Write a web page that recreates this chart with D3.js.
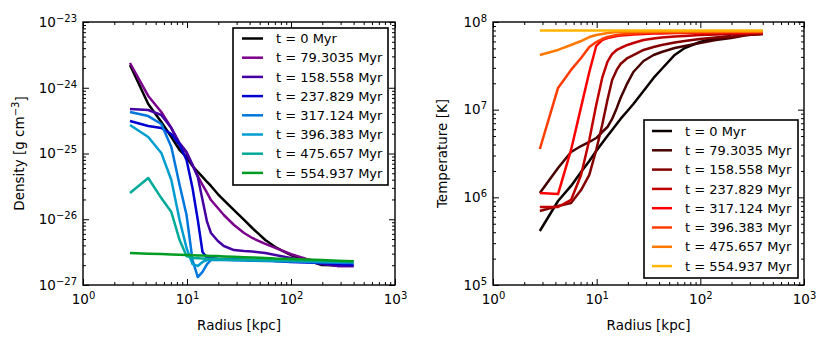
<!DOCTYPE html>
<html>
<head>
<meta charset="utf-8">
<script src="https://cdn.jsdelivr.net/npm/d3@7"></script>
<style>
  html, body { margin: 0; padding: 0; background: #fff; }
  svg { display: block; font-family: "DejaVu Sans", sans-serif; }
</style>
</head>
<body>
<svg id="chart" width="830" height="347"></svg>
<script>
// ---------------- data ----------------
const radii = [2.83, 4.24, 5.66, 7.07, 8.49, 9.9, 11.3, 12.7, 14.1, 15.6, 17.0, 19.8, 22.6, 28.3, 35.4, 42.4, 56.6, 70.7, 99, 141, 198, 283, 400];
const times = ["0", "79.3035", "158.558", "237.829", "317.124", "396.383", "475.657", "554.937"];

const dens0   = [2.22e-24, 5.66e-25, 3.01e-25, 1.78e-25, 1.13e-25, 8.85e-26, 6.46e-26, 5.25e-26, 4.40e-26, 3.69e-26, 3.21e-26, 2.42e-26, 1.96e-26, 1.38e-26, 9.75e-27, 7.36e-27, 4.83e-27, 3.78e-27, 2.86e-27, 2.40e-27, 2.01e-27, 2.0e-27, null];
const dens79  = [2.38e-24, 7.5e-25, 4.28e-25, 2.44e-25, 1.35e-25, 1.02e-25, 6.68e-26, 4.55e-26, 3.32e-26, 2.51e-26, 1.96e-26, 1.48e-26, 1.16e-26, 8.18e-27, 6.18e-27, 5.19e-27, 4.21e-27, 3.66e-27, 2.96e-27, 2.48e-27, 2.16e-27, 1.95e-27, 1.95e-27];
const dens158 = [4.75e-25, 4.59e-25, 3.85e-25, 2.44e-25, 1.44e-25, 1.05e-25, 6.68e-26, 4.4e-26, 1.96e-26, 9.1e-27, 6.18e-27, 4.67e-27, 3.92e-27, 3.4e-27, 3.29e-27, 3.23e-27, 3.07e-27, 2.86e-27, 2.57e-27, 2.32e-27, 2.08e-27, 1.95e-27, 1.95e-27];
const dens237 = [3.12e-25, 2.62e-25, 2.44e-25, 1.98e-25, 1.35e-25, 7.96e-26, 2.98e-26, 9.75e-27, 3.18e-27, 2.58e-27, 2.55e-27, 2.5e-27, 2.48e-27, 2.46e-27, 2.42e-27, 2.4e-27, 2.38e-27, 2.32e-27, 2.24e-27, 2.2e-27, 2.16e-27, 2.08e-27, 2.01e-27];
const dens317 = [4.28e-25, 3.71e-25, 2.81e-25, 1.26e-25, 3.32e-26, 1.16e-26, 2.4e-27, 1.32e-27, 1.58e-27, 2.08e-27, 2.4e-27, 2.4e-27, 2.4e-27, 2.38e-27, 2.36e-27, 2.34e-27, 2.32e-27, 2.3e-27, 2.28e-27, 2.24e-27, 2.2e-27, 2.18e-27, 2.16e-27];
const dens396 = [2.71e-25, 1.78e-25, 1.02e-25, 3.95e-26, 9.75e-27, 3.66e-27, 2.08e-27, 1.95e-27, 2.24e-27, 2.4e-27, 2.42e-27, 2.42e-27, 2.42e-27, 2.4e-27, 2.4e-27, 2.38e-27, 2.36e-27, 2.34e-27, 2.32e-27, 2.3e-27, 2.28e-27, 2.26e-27, 2.24e-27];
const dens475 = [2.51e-26, 4.24e-26, 2.1e-26, 1.29e-26, 4.83e-27, 2.76e-27, 2.58e-27, 2.55e-27, 2.52e-27, 2.5e-27, 2.5e-27, 2.48e-27, 2.46e-27, 2.45e-27, 2.44e-27, 2.42e-27, 2.4e-27, 2.38e-27, 2.36e-27, 2.34e-27, 2.32e-27, 2.3e-27, 2.28e-27];
const dens554 = [3.07e-27, 3.0e-27, 2.96e-27, 2.91e-27, 2.88e-27, 2.86e-27, 2.84e-27, 2.82e-27, 2.80e-27, 2.78e-27, 2.77e-27, 2.75e-27, 2.72e-27, 2.69e-27, 2.65e-27, 2.62e-27, 2.58e-27, 2.53e-27, 2.49e-27, 2.44e-27, 2.39e-27, 2.34e-27, 2.30e-27];

const temp0   = [4.13e5, 9.08e5, 1.35e6, 1.94e6, 2.6e6, 3.38e6, 4.17e6, 5.01e6, 5.87e6, 6.87e6, 7.84e6, 9.67e6, 1.16e7, 1.63e7, 2.3e7, 2.91e7, 4.21e7, 5.05e7, 5.91e7, 6.57e7, 6.92e7, null, null];
const temp79  = [1.12e6, 2.16e6, 3.29e6, 3.85e6, 4.28e6, 4.75e6, 5.56e6, 6.34e6, 7.83e6, 1.04e7, 1.36e7, 2.01e7, 2.69e7, 3.59e7, 4.20e7, 4.55e7, 5.05e7, 5.33e7, 5.76e7, 6.23e7, 6.57e7, 7.11e7, 7.30e7];
const temp158 = [6.99e5, 7.96e5, 8.62e5, 1.21e6, 1.80e6, 3.47e6, 6.68e6, 1.29e7, 2.18e7, 2.84e7, 3.32e7, 3.88e7, 4.20e7, 4.80e7, 5.19e7, 5.47e7, 5.84e7, 6.07e7, 6.40e7, 6.66e7, 6.83e7, 7.11e7, 7.30e7];
const temp237 = [7.76e5, 7.76e5, 9.33e5, 1.80e6, 4.51e6, 1.13e7, 2.30e7, 3.50e7, 4.32e7, 4.80e7, 5.05e7, 5.47e7, 5.76e7, 6.23e7, 6.48e7, 6.66e7, 6.83e7, 6.93e7, 7.11e7, 7.20e7, 7.30e7, 7.39e7, 7.49e7];
const temp317 = [1.12e6, 1.09e6, 3.47e6, 1.07e7, 2.69e7, 5.33e7, 6.23e7, 6.57e7, 6.74e7, 6.93e7, 7.02e7, 7.11e7, 7.20e7, 7.30e7, 7.39e7, 7.39e7, 7.49e7, 7.49e7, 7.49e7, 7.59e7, 7.59e7, 7.59e7, 7.69e7];
const temp396 = [3.56e6, 1.77e7, 2.84e7, 3.88e7, 5.19e7, 5.91e7, 6.40e7, 6.74e7, 6.93e7, 7.11e7, 7.20e7, 7.30e7, 7.39e7, 7.49e7, 7.59e7, 7.59e7, 7.59e7, 7.59e7, 7.64e7, 7.64e7, 7.69e7, 7.69e7, 7.69e7];
const temp475 = [4.20e7, 4.80e7, 5.47e7, 6.07e7, 6.74e7, 7.11e7, 7.30e7, 7.49e7, 7.59e7, 7.69e7, 7.69e7, 7.69e7, 7.74e7, 7.74e7, 7.74e7, 7.79e7, 7.79e7, 7.79e7, 7.79e7, 7.79e7, 7.79e7, 7.79e7, 7.79e7];
const temp554 = [8.0e7, 8.0e7, 8.0e7, 8.0e7, 8.0e7, 8.0e7, 8.0e7, 8.0e7, 8.0e7, 8.0e7, 8.0e7, 8.0e7, 8.0e7, 8.0e7, 8.0e7, 8.0e7, 8.0e7, 8.0e7, 8.0e7, 8.0e7, 8.0e7, 8.0e7, 8.0e7];

const xTickExps = [0, 1, 2, 3];
const densTickExps = [-27, -26, -25, -24, -23];
const tempTickExps = [5, 6, 7, 8];

const densColors = ["#000000", "#7b008c", "#4400a2", "#0000d0", "#0077dd", "#009dd0", "#00aa99", "#009d22"];
const tempColors = ["#0b0000", "#470000", "#840000", "#c10000", "#fe0000", "#ff3c00", "#ff7900", "#ffb500"];

const densSeries = [dens0, dens79, dens158, dens237, dens317, dens396, dens475, dens554];
const tempSeries = [temp0, temp79, temp158, temp237, temp317, temp396, temp475, temp554];

// ---------------- drawing ----------------
const svg = d3.select("#chart");
const FONT = 13;
const TICKFONT = 13.5;
const minus = "\u2212";

function expLabel(textSel, e) {
  textSel.text(null);
  textSel.append("tspan").text("10");
  textSel.append("tspan").attr("dy", "-0.5em").attr("font-size", "10px")
    .text(e < 0 ? minus + Math.abs(e) : String(e));
}

function minorValues(lo, hi) {
  const out = [];
  for (let e = lo; e < hi; e++) for (let k = 2; k <= 9; k++) out.push(k * Math.pow(10, e));
  return out;
}

function panel(cfg) {
  const { x0, x1, y0, y1, yDomainExp, yTicks, series, colors, yLabel, legend, id } = cfg;
  const x = d3.scaleLog().domain([1, 1000]).range([x0, x1]);
  const y = d3.scaleLog().domain([Math.pow(10, yDomainExp[0]), Math.pow(10, yDomainExp[1])]).range([y1, y0]);
  const g = svg.append("g");

  svg.append("defs").append("clipPath").attr("id", "clip" + id)
    .append("rect").attr("x", x0).attr("y", y0).attr("width", x1 - x0).attr("height", y1 - y0);

  const xMajor = xTickExps.map(e => Math.pow(10, e));
  const yMajor = yTicks.map(e => Math.pow(10, e));
  const xMinor = minorValues(0, 3);
  const yMinor = minorValues(yDomainExp[0], yDomainExp[1]);

  const MAJ = 6, MIN = 3;
  const gb = g.append("g").attr("transform", `translate(0,${y1})`)
    .call(d3.axisBottom(x).tickValues(xMajor).tickSizeInner(-MAJ).tickSizeOuter(0).tickPadding(9));
  gb.selectAll(".tick text").each(function(d) { expLabel(d3.select(this), Math.round(Math.log10(d))); });
  g.append("g").attr("transform", `translate(0,${y1})`)
    .call(d3.axisBottom(x).tickValues(xMinor).tickSizeInner(-MIN).tickSizeOuter(0).tickFormat(""));
  g.append("g").attr("transform", `translate(0,${y0})`)
    .call(d3.axisTop(x).tickValues(xMajor).tickSizeInner(-MAJ).tickSizeOuter(0).tickFormat(""));
  g.append("g").attr("transform", `translate(0,${y0})`)
    .call(d3.axisTop(x).tickValues(xMinor).tickSizeInner(-MIN).tickSizeOuter(0).tickFormat(""));
  const gl = g.append("g").attr("transform", `translate(${x0},0)`)
    .call(d3.axisLeft(y).tickValues(yMajor).tickSizeInner(-MAJ).tickSizeOuter(0).tickPadding(6));
  gl.selectAll(".tick text").each(function(d) { expLabel(d3.select(this), Math.round(Math.log10(d))); });
  g.append("g").attr("transform", `translate(${x0},0)`)
    .call(d3.axisLeft(y).tickValues(yMinor).tickSizeInner(-MIN).tickSizeOuter(0).tickFormat(""));
  g.append("g").attr("transform", `translate(${x1},0)`)
    .call(d3.axisRight(y).tickValues(yMajor).tickSizeInner(-MAJ).tickSizeOuter(0).tickFormat(""));
  g.append("g").attr("transform", `translate(${x1},0)`)
    .call(d3.axisRight(y).tickValues(yMinor).tickSizeInner(-MIN).tickSizeOuter(0).tickFormat(""));

  g.selectAll(".domain").remove();
  g.selectAll(".tick line").attr("stroke", "#000").attr("stroke-width", 1);
  g.selectAll(".tick text").attr("font-size", TICKFONT + "px").attr("fill", "#000")
    .attr("font-family", "DejaVu Sans, sans-serif");

  const line = d3.line()
    .defined(d => d[1] != null)
    .x(d => x(d[0])).y(d => y(d[1]));
  const lg = svg.append("g").attr("clip-path", `url(#clip${id})`);
  series.forEach((s, i) => {
    lg.append("path")
      .datum(radii.map((r, j) => [r, s[j]]))
      .attr("d", line)
      .attr("fill", "none")
      .attr("stroke", colors[i])
      .attr("stroke-width", 2.5)
      .attr("stroke-linejoin", "round")
      .attr("stroke-linecap", "butt");
  });

  svg.append("rect").attr("x", x0).attr("y", y0).attr("width", x1 - x0).attr("height", y1 - y0)
    .attr("fill", "none").attr("stroke", "#000").attr("stroke-width", 1.4);

  svg.append("text").attr("x", (x0 + x1) / 2).attr("y", 330)
    .attr("text-anchor", "middle").attr("font-size", "13.5px").text("Radius [kpc]");
  const yl = svg.append("text")
    .attr("transform", `translate(${cfg.yLabelX},${(y0 + y1) / 2}) rotate(-90)`)
    .attr("text-anchor", "middle").attr("font-size", "13.5px");
  yLabel(yl);

  const L = legend;
  svg.append("rect").attr("x", L.x).attr("y", L.y).attr("width", L.w).attr("height", L.h)
    .attr("fill", "#fff").attr("stroke", "#000").attr("stroke-width", 1.6);
  times.forEach((t, i) => {
    const cy = L.row0 + i * L.dy;
    svg.append("line").attr("x1", L.lx0).attr("x2", L.lx1).attr("y1", cy).attr("y2", cy)
      .attr("stroke", colors[i]).attr("stroke-width", 2.5);
    svg.append("text").attr("x", L.tx).attr("y", cy).attr("dy", "0.36em")
      .attr("font-size", FONT + "px").text(`t = ${t} Myr`);
  });
}

panel({
  id: "L", x0: 83, x1: 395, y0: 22, y1: 285,
  yDomainExp: [-27, -23], yTicks: densTickExps,
  series: densSeries, colors: densColors,
  yLabelX: 24,
  yLabel: t => {
    t.append("tspan").text("Density [g cm");
    t.append("tspan").attr("dy", "-0.5em").attr("font-size", "10px").text(minus + "3");
    t.append("tspan").attr("dy", "0.5em").text("]");
  },
  legend: { x: 233, y: 28, w: 155, h: 157, row0: 38.5, dy: 19.2, lx0: 242, lx1: 263, tx: 276 }
});

panel({
  id: "R", x0: 493, x1: 804, y0: 22, y1: 285,
  yDomainExp: [5, 8], yTicks: tempTickExps,
  series: tempSeries, colors: tempColors,
  yLabelX: 447,
  yLabel: t => { t.text("Temperature [K]"); },
  legend: { x: 644, y: 120, w: 154, h: 158, row0: 131, dy: 19.3, lx0: 652, lx1: 672, tx: 685 }
});
</script>
</body>
</html>
